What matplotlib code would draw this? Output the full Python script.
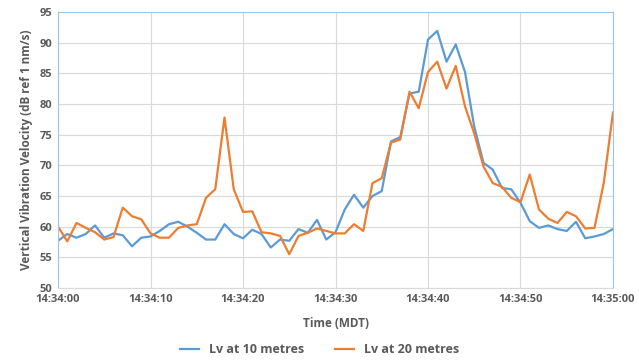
import numpy as np
import matplotlib
matplotlib.use("Agg")
import matplotlib.pyplot as plt

# seconds after 14:34:00
seconds = np.arange(0, 61)

lv_10m = [57.7, 58.8, 58.2, 58.8, 60.2, 58.2, 58.9, 58.6, 56.8, 58.2,
          58.4, 59.3, 60.4, 60.8, 60.0, 59.0, 57.9, 57.9, 60.4, 58.8,
          58.1, 59.5, 58.8, 56.6, 57.9, 57.7, 59.6, 59.0, 61.1, 57.9,
          59.1, 62.8, 65.2, 63.1, 65.0, 65.8, 73.9, 74.6, 81.7, 82.0,
          90.5, 91.9, 86.9, 89.7, 85.2, 76.3, 70.4, 69.3, 66.3, 66.1,
          63.9, 60.9, 59.8, 60.2, 59.6, 59.3, 60.8, 58.1, 58.4, 58.8,
          59.6]

lv_20m = [60.0, 57.6, 60.6, 59.8, 59.1, 57.9, 58.3, 63.1, 61.7, 61.2,
          58.9, 58.2, 58.2, 59.8, 60.2, 60.4, 64.7, 66.1, 77.8, 66.1,
          62.4, 62.5, 59.1, 58.9, 58.5, 55.5, 58.5, 59.0, 59.7, 59.3,
          58.9, 58.9, 60.4, 59.3, 67.1, 67.9, 73.7, 74.2, 82.0, 79.3,
          85.2, 86.9, 82.5, 86.2, 79.6, 75.2, 69.8, 67.1, 66.5, 64.7,
          64.0, 68.5, 62.8, 61.3, 60.6, 62.4, 61.7, 59.7, 59.8, 67.1,
          78.6]

tick_secs = [0, 10, 20, 30, 40, 50, 60]
tick_labels = ["14:34:00", "14:34:10", "14:34:20", "14:34:30",
               "14:34:40", "14:34:50", "14:35:00"]

text_col = "#595959"
plt.rcParams['font.family'] = ['Open Sans', 'DejaVu Sans']

fig = plt.figure(figsize=(6.39, 3.62), dpi=100)
ax = fig.add_axes([0.0908, 0.2044, 0.8685, 0.7626])

ax.plot(seconds, lv_10m, color="#5B9BD5", lw=1.6, label="Lv at 10 metres")
ax.plot(seconds, lv_20m, color="#ED7D31", lw=1.6, label="Lv at 20 metres")

ax.set_xlim(0, 60)
ax.set_ylim(50, 95)
ax.set_xticks(tick_secs)
ax.set_xticklabels(tick_labels)
ax.set_yticks(range(50, 96, 5))
ax.tick_params(length=0, pad=4, labelsize=8, labelcolor=text_col)
for lab in ax.get_xticklabels() + ax.get_yticklabels():
    lab.set_fontweight("bold")

ax.grid(True, color="#D9D9D9", lw=0.8)
ax.set_axisbelow(True)
for side in ["left", "top", "right"]:
    ax.spines[side].set_color("#9DC3E6")
ax.spines["bottom"].set_color("#D9D9D9")

ax.set_xlabel("Time (MDT)", fontsize=8.5, fontweight="bold", color=text_col, labelpad=9)
ax.set_ylabel("Vertical Vibration Velocity (dB ref 1 nm/s)", fontsize=8.5,
              fontweight="bold", color=text_col, labelpad=5)

leg = fig.legend(loc="lower center", bbox_to_anchor=(0.5, -0.015), ncol=2,
                 frameon=False, handlelength=1.5, columnspacing=2.5,
                 prop={'weight': 'bold', 'size': 9})
for t in leg.get_texts():
    t.set_color(text_col)

fig.savefig("out.png", dpi=100)
